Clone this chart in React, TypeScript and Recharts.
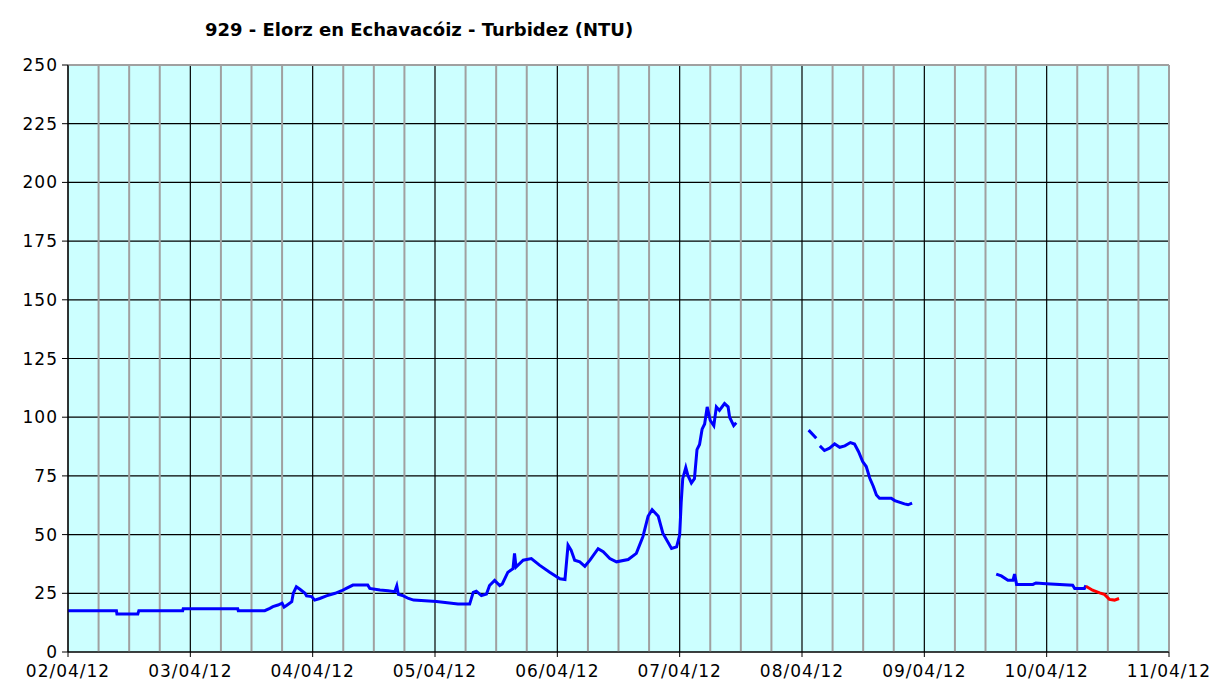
import React from 'react';
import { LineChart, Line, XAxis, YAxis, CartesianGrid, ReferenceLine } from 'recharts';

// hours counted from 02/04/12 00:00
const blueHours = [
  0, 9.5, 9.6, 13.7, 13.9, 22.5, 22.6, 33.3, 33.4, 38.6, 39.6, 40.2, 41.2, 42, 42.4, 43, 43.9, 44.2, 44.8, 45.5,
  46.5, 46.8, 47.8, 48.4, 49.4, 50.7, 52.4, 53.7, 54.6, 55.9, 58.8, 59.2, 61.2, 62.8, 64.1, 64.5, 64.8, 65.8, 66.8,
  67.8, 72.3, 76.5, 78.8, 79.5, 80.1, 81.1, 82.1, 82.7, 83.7, 84.7, 85.2, 86.3, 87.3, 87.6, 87.9, 89.3, 90.9, 92.5,
  94.5, 96.5, 97.5, 98.1, 98.7, 99.4, 100.4, 101.4, 102.4, 104, 105, 106.3, 107.6, 109.9, 111.5, 112.8, 113.8,
  114.6, 115.8, 116.7, 118.4, 119.4, 120, 120.3, 120.6, 121.2, 121.6, 122.3, 122.9, 123.4, 123.9, 124.4, 124.9,
  125.4, 126, 126.7, 127.2, 127.8, 128.8, 129.5, 129.8, 130.6, 131.1, 138,
  145.3, 146.8, 147.1, 147.5, 148.4, 149.4, 150.4, 151.4, 152.4, 153.5, 154.3, 155.1, 155.9, 156.6, 157.3, 158,
  158.6, 159.2, 161.5, 162.2, 164.1, 164.8, 165.6, 174,
  182.1, 183.1, 184.4, 185.4, 185.7, 186.1, 189.3, 189.9, 191.9, 197.1, 197.5, 199.4, 199.7,
];
const blueValues = [
  17.6, 17.6, 16.2, 16.2, 17.6, 17.6, 18.4, 18.4, 17.6, 17.6, 18.6, 19.3, 20, 20.8, 19.1, 20, 21.4, 25, 27.8, 26.7,
  25, 23.9, 23.6, 22.1, 22.8, 23.9, 25, 26.1, 27.1, 28.5, 28.5, 27.1, 26.4, 26.1, 25.7, 28.2, 24.6, 23.9, 22.8,
  22.1, 21.5, 20.4, 20.4, 25.4, 25.9, 24, 24.7, 28.3, 30.5, 28.3, 29, 34, 35.5, 42, 36.2, 39.1, 39.8, 37,
  34, 31.2, 30.9, 45.5, 43.4, 39.1, 38.4, 36.5, 39.1, 44, 42.7, 39.8, 38.4, 39.4, 42, 49.2, 57.8,
  60.6, 57.8, 50.6, 44.1, 44.8, 49.8, 63.7, 73.8, 78.6, 75.3, 72, 73.8, 86.2, 88.4, 94.9, 97.1,
  104.4, 98.6, 96.4, 104.4, 102.9, 105.8, 104.4, 100, 96.4, 97.6, null,
  94.5, 91, null, 87.8, 85.8, 86.8, 88.6, 87.2, 87.8, 89.2, 88.6, 85.3, 81.1, 79, 74, 70.5,
  66.9, 65.5, 65.5, 64.5, 63.1, 62.7, 63.4, null,
  33.2, 32.4, 30.6, 30.6, 33.2, 28.8, 28.8, 29.4, 29.1, 28.4, 27, 27, 28.4,
];

const redHours = [199.7, 201, 202.4, 203.3, 204.3, 205.3, 206.2];
const redValues = [28, 26.3, 25.2, 24.6, 22.4, 22.1, 22.8];

const dayLabels = ['02/04/12', '03/04/12', '04/04/12', '05/04/12', '06/04/12', '07/04/12', '08/04/12', '09/04/12', '10/04/12', '11/04/12'];
const yTicks = [0, 25, 50, 75, 100, 125, 150, 175, 200, 225, 250];

const dayTicks = dayLabels.map((_, i) => i * 24);
const quarterTicks: number[] = [];
for (let h = 6; h < 216; h += 6) if (h % 24 !== 0) quarterTicks.push(h);

const blueData = blueHours.map((h, i) => ({ h, v: blueValues[i] }));
const redData = redHours.map((h, i) => ({ h, v: redValues[i] }));

const font = '"DejaVu Sans", Verdana, sans-serif';
const tickStyle = { fill: '#000', fontSize: 17, fontFamily: font, letterSpacing: 1 };

export default function App() {
  return (
    <div style={{ position: 'absolute', left: 0, top: 0, width: 1228, height: 691, background: '#fff' }}>
      <div
        style={{
          position: 'absolute',
          left: 205,
          top: 19,
          fontFamily: font,
          fontSize: 18,
          fontWeight: 'bold',
          color: '#000',
          whiteSpace: 'nowrap',
        }}
      >
        929 - Elorz en Echavacóiz - Turbidez (NTU)
      </div>
      <LineChart width={1228} height={691} margin={{ top: 65, right: 59, bottom: 0, left: 0 }}>
        <CartesianGrid stroke="#000" strokeWidth={1.2} fill="#ccffff" fillOpacity={1} />
        {quarterTicks.map((h) => (
          <ReferenceLine key={h} x={h} stroke="#a0a0a0" strokeWidth={2} />
        ))}
        <ReferenceLine y={250} stroke="#a0a0a0" strokeWidth={2} />
        <ReferenceLine x={216} stroke="#a0a0a0" strokeWidth={2} />
        <XAxis
          type="number"
          dataKey="h"
          domain={[0, 216]}
          ticks={dayTicks}
          tickFormatter={(h: number) => dayLabels[Math.round(h / 24)]}
          interval={0}
          height={39}
          tickSize={5}
          tickMargin={8}
          stroke="#000"
          tick={tickStyle}
          allowDataOverflow
        />
        <YAxis
          type="number"
          domain={[0, 250]}
          ticks={yTicks}
          interval={0}
          width={68}
          tickSize={6}
          tickMargin={4}
          stroke="#000"
          tick={tickStyle}
        />
        <Line
          data={blueData}
          dataKey="v"
          type="linear"
          stroke="#0000ff"
          strokeWidth={3}
          dot={false}
          connectNulls={false}
          isAnimationActive={false}
        />
        <Line
          data={redData}
          dataKey="v"
          type="linear"
          stroke="#ff0000"
          strokeWidth={3}
          dot={false}
          isAnimationActive={false}
        />
      </LineChart>
    </div>
  );
}
